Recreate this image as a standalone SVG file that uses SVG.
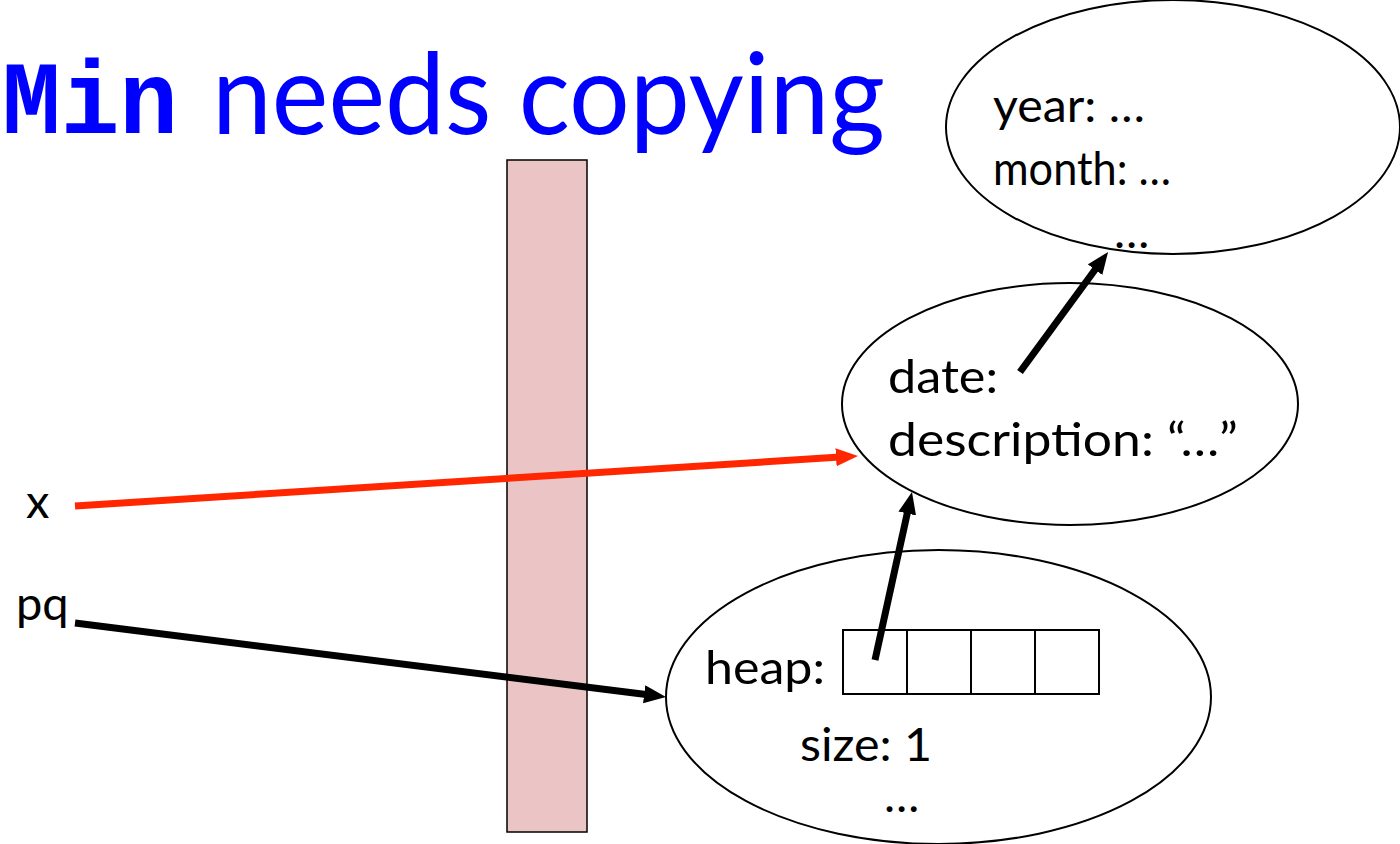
<svg xmlns="http://www.w3.org/2000/svg" width="1400" height="844" viewBox="0 0 1400 844">
<style>
.t{font-family:Lato,"Open Sans","Liberation Sans",sans-serif;font-size:47px;fill:#000}
.obj{fill:#fff;stroke:#000;stroke-width:2}
.cell{fill:#fff;stroke:#000;stroke-width:2}
.ar{stroke:#000;stroke-width:7;fill:none}
.red{stroke:#FF2600;stroke-width:7;fill:none}
</style>
<defs>
<marker id="ah" markerUnits="userSpaceOnUse" markerWidth="24" markerHeight="20" refX="4" refY="9" orient="auto"><path d="M0,0 L22,9 L0,18 z" fill="#000"/></marker>
<marker id="ahr" markerUnits="userSpaceOnUse" markerWidth="24" markerHeight="20" refX="4" refY="9" orient="auto"><path d="M0,0 L22,9 L0,18 z" fill="#FF2600"/></marker>
</defs>
<rect width="1400" height="844" fill="#fff"/>
<g id="title">
<text x="2" y="133" font-family="'Liberation Mono',monospace" font-weight="bold" font-size="104" fill="#0000FF" textLength="176" lengthAdjust="spacingAndGlyphs">Min</text>
<text x="212" y="134" font-family="Lato,'Open Sans',sans-serif" font-size="112" fill="#0000FF" textLength="673" lengthAdjust="spacingAndGlyphs">needs copying</text>
</g>
<g id="bar"><rect x="507" y="160" width="80" height="672" fill="#EBC5C5" stroke="#000" stroke-width="1.5"/></g>
<g id="dateobj">
<ellipse class="obj" cx="1173" cy="127" rx="227" ry="127"/>
<text class="t" x="993" y="122" textLength="152" lengthAdjust="spacingAndGlyphs">year: …</text>
<text class="t" x="993" y="185" textLength="178" lengthAdjust="spacingAndGlyphs">month: …</text>
<text class="t" x="1114" y="248">…</text>
</g>
<g id="itemobj">
<ellipse class="obj" cx="1070" cy="404" rx="228" ry="121"/>
<text class="t" x="888" y="393" textLength="110" lengthAdjust="spacingAndGlyphs">date:</text>
<text class="t" x="888" y="456" textLength="350" lengthAdjust="spacingAndGlyphs">description: “…”</text>
</g>
<g id="pqobj">
<ellipse class="obj" cx="938.5" cy="697" rx="272.5" ry="147"/>
<text class="t" x="705" y="684" textLength="120" lengthAdjust="spacingAndGlyphs">heap:</text>
<rect class="cell" x="843" y="630" width="64" height="64"/>
<rect class="cell" x="907" y="630" width="64" height="64"/>
<rect class="cell" x="971" y="630" width="64" height="64"/>
<rect class="cell" x="1035" y="630" width="64" height="64"/>
<text class="t" x="800" y="761" textLength="132" lengthAdjust="spacingAndGlyphs">size: 1</text>
<text class="t" x="884" y="812">…</text>
</g>
<g id="vars">
<text class="t" x="26" y="518">x</text>
<text class="t" x="16" y="620">pq</text>
</g>
<g id="connectors">
<line class="red" x1="75" y1="506" x2="840" y2="457.1" marker-end="url(#ahr)"/>
<line class="ar" x1="75" y1="623" x2="648.1" y2="694.8" marker-end="url(#ah)"/>
<line class="ar" x1="875" y1="660" x2="908.1" y2="509.6" marker-end="url(#ah)"/>
<line class="ar" x1="1020" y1="372" x2="1097.4" y2="266.5" marker-end="url(#ah)"/>
</g>
</svg>
